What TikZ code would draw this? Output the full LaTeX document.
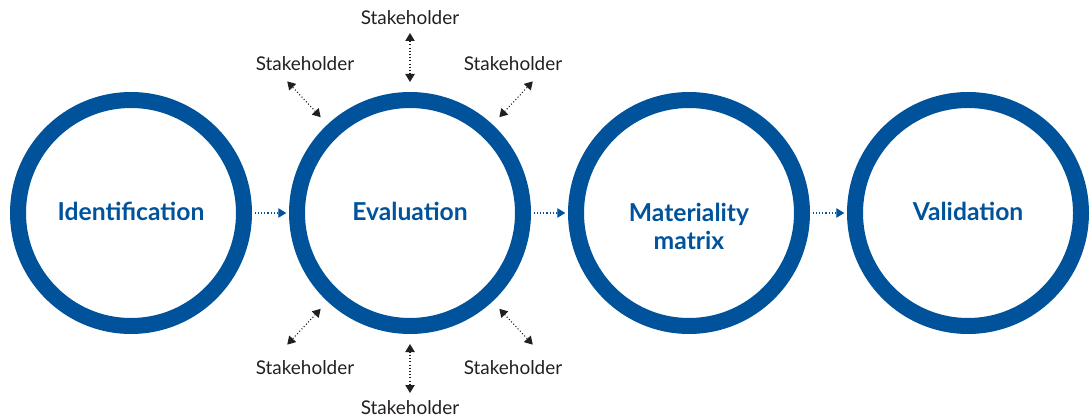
\documentclass[tikz,border=0pt]{standalone}
\usepackage{fontspec}
\setmainfont{Lato}
\usetikzlibrary{arrows.meta,calc,positioning}

\definecolor{ringblue}{RGB}{0,83,155}
\definecolor{stakegray}{RGB}{35,31,32}

\tikzset{
	x=0.75pt,y=0.75pt,
	phase/.style={circle,draw=ringblue,line width=12pt,minimum size=169.5pt,inner sep=0pt},
	phasetext/.style={anchor=base,align=center,inner sep=0pt,text=ringblue,
		font=\fontsize{18.5}{21}\selectfont\bfseries},
	flow/.style={ringblue,line width=0.8pt,dash pattern=on 0.8pt off 1.6pt,
		-{Triangle[length=6pt,width=7pt]},shorten <=2pt,shorten >=2pt},
	stake/.style={text=stakegray,inner sep=0pt,font=\fontsize{14.2}{16}\selectfont},
	link/.style={stakegray,line width=0.8pt,dash pattern=on 0.8pt off 1.6pt,
		{Triangle[length=6pt,width=7pt]}-{Triangle[length=6pt,width=7pt]}},
}

\begin{document}
\begin{tikzpicture}
			\useasboundingbox (0,0) rectangle (1091,418);
			% phases
			\node[phase] (id) at (131,205) {};
			\node[phase] (ev) at (410,205) {};
			\node[phase] (mm) at (689,205) {};
			\node[phase] (va) at (968,205) {};
			\node[phasetext] (idtext) at ($(id)+(0,-8)$) {Identification};
			\node[phasetext] (evtext) at ($(ev)+(0,-8)$) {Evaluation};
			\node[phasetext,anchor=north] (mmtext) at ($(mm)+(0,10)$) {Materiality\\matrix};
			\node[phasetext] (vatext) at ($(va)+(0,-8)$) {Validation};
			%
			\draw[flow] (id) -- (ev);
			\draw[flow] (ev) -- (mm);
			\draw[flow] (mm) -- (va);
			% stakeholders round the evaluation
			\foreach \ang/\nm in {90/n,133/nw,47/ne,-133/sw,-90/s,-47/se} {
				\coordinate (\nm in) at ($(ev)+(\ang:131)$);
				\coordinate (\nm out) at ($(ev)+(\ang:180)$);
				\draw[link] (\nm in) -- (\nm out);
			}
			\node[stake] (sn) at (410,400) {Stakeholder};
			\node[stake] (snw) at (305,354) {Stakeholder};
			\node[stake] (sne) at (513,354) {Stakeholder};
			\node[stake] (ssw) at (305,50) {Stakeholder};
			\node[stake] (ss) at (410,10) {Stakeholder};
			\node[stake] (sse) at (513,50) {Stakeholder};
\end{tikzpicture}
\end{document}
